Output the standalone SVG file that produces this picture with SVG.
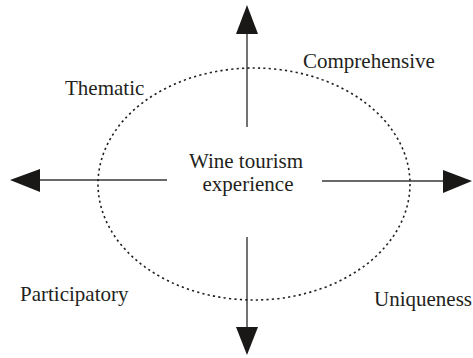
<svg xmlns="http://www.w3.org/2000/svg" width="473" height="358" viewBox="0 0 473 358">
<style>
text{font-family:"Liberation Serif","Times New Roman",Tinos,"DejaVu Serif",serif;font-size:21px;fill:#231f20}
.ln{stroke:#3a3636;stroke-width:1.4;fill:none}
.ah{fill:#1a1717}
.ell{fill:none;stroke:#231f20;stroke-width:1.6;stroke-dasharray:2.2 3.2}
</style>
<rect width="473" height="358" fill="#fff"/>
<g id="connectors">
<line class="ln" x1="247" y1="34" x2="247" y2="127"/>
<polygon class="ah" points="247,5 236,34 258,34"/>
<line class="ln" x1="40" y1="180" x2="167" y2="180"/>
<polygon class="ah" points="10,180 40,169 40,192"/>
<line class="ln" x1="322" y1="181" x2="443" y2="181"/>
<polygon class="ah" points="472,181 443,170 443,193"/>
<line class="ln" x1="247" y1="237" x2="247" y2="327"/>
<polygon class="ah" points="247,355 236,327 258,327"/>
</g>
<g id="ellipse"><ellipse class="ell" cx="254" cy="184" rx="156" ry="116"/></g>
<g id="center"><text x="246" y="168" text-anchor="middle" font-family="Liberation Serif, serif">Wine tourism</text><text x="248" y="191" text-anchor="middle" font-family="Liberation Serif, serif">experience</text></g>
<g id="comprehensive"><text x="303" y="68" font-family="Liberation Serif, serif">Comprehensive</text></g>
<g id="thematic"><text x="65" y="95" font-family="Liberation Serif, serif">Thematic</text></g>
<g id="participatory"><text x="20" y="301" font-family="Liberation Serif, serif">Participatory</text></g>
<g id="uniqueness"><text x="374" y="306" font-family="Liberation Serif, serif">Uniqueness</text></g>
</svg>
